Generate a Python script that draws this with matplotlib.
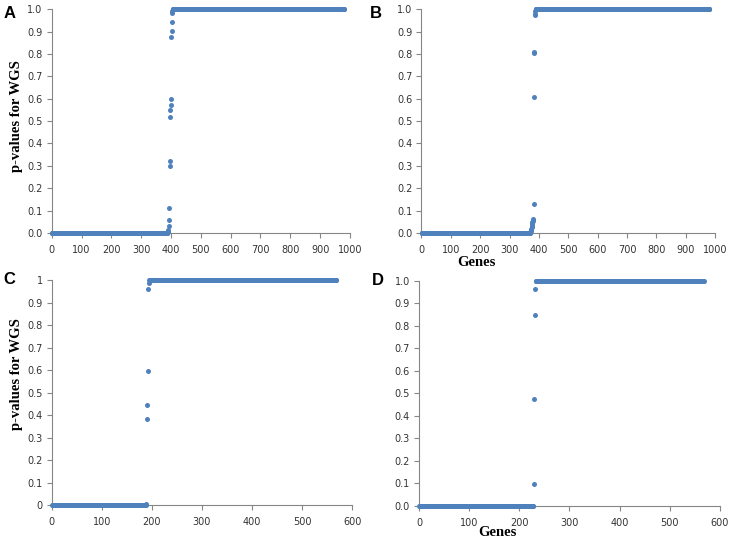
import matplotlib
matplotlib.use('Agg')
import matplotlib.pyplot as plt
import numpy as np
from matplotlib.ticker import FormatStrFormatter, FuncFormatter

# --- datos: p-values ordenados por gen (ceros, transición, unos) ---
a_zero_count = 388
a_mid = [0.003, 0.008, 0.015, 0.033, 0.06, 0.11, 0.30, 0.32, 0.52, 0.55,
         0.57, 0.60, 0.878, 0.903, 0.942, 0.985, 0.993]
a_total = 980

b_zero_count = 370
b_mid = [0.004, 0.008, 0.012, 0.018, 0.025, 0.032, 0.04, 0.048, 0.055, 0.06,
         0.063, 0.128, 0.607, 0.805, 0.81, 0.972, 0.98, 0.99]
b_total = 980

c_zero_count = 188
c_mid = [0.005, 0.384, 0.443, 0.596, 0.959, 0.988]
c_total = 568

d_zero_count = 228
d_mid = [0.099, 0.475, 0.849, 0.964]
d_total = 568

x_ticks_big = [0, 100, 200, 300, 400, 500, 600, 700, 800, 900, 1000]
x_ticks_small = [0, 100, 200, 300, 400, 500, 600]
y_ticks = [0.0, 0.1, 0.2, 0.3, 0.4, 0.5, 0.6, 0.7, 0.8, 0.9, 1.0]

colors = {
    'point': '#4F81BD',
    'axis': '#868686',
    'text': '#333333',
}


def build_series(zero_count, mid, total):
    y = np.concatenate([np.zeros(zero_count), np.array(mid),
                        np.ones(total - zero_count - len(mid))])
    x = np.arange(1, len(y) + 1)
    return x, y


def style_axis(ax, xmax, xticks, yfmt):
    ax.set_xlim(0, xmax)
    ax.set_ylim(0, 1)
    ax.set_xticks(xticks)
    ax.set_yticks(y_ticks)
    ax.yaxis.set_major_formatter(yfmt)
    for side in ['top', 'right']:
        ax.spines[side].set_visible(False)
    for side in ['left', 'bottom']:
        ax.spines[side].set_color(colors['axis'])
        ax.spines[side].set_linewidth(0.8)
    ax.tick_params(axis='both', direction='out', length=3.5, width=0.8,
                   color=colors['axis'], labelsize=7, labelcolor=colors['text'])
    ax.tick_params(axis='x', pad=5)
    ax.tick_params(axis='y', pad=3)


fig = plt.figure(figsize=(7.34, 5.41), dpi=100, facecolor='white')

axA = fig.add_axes([0.0704, 0.5693, 0.4064, 0.4137])
axB = fig.add_axes([0.5740, 0.5693, 0.4005, 0.4137])
axC = fig.add_axes([0.0704, 0.0665, 0.4096, 0.4159])
axD = fig.add_axes([0.5708, 0.0647, 0.4101, 0.4159])

one_dec = FormatStrFormatter('%.1f')
general = FuncFormatter(lambda v, p: '%g' % round(v, 1))

panels = [
    (axA, build_series(a_zero_count, a_mid, a_total), 1000, x_ticks_big, one_dec),
    (axB, build_series(b_zero_count, b_mid, b_total), 1000, x_ticks_big, one_dec),
    (axC, build_series(c_zero_count, c_mid, c_total), 600, x_ticks_small, general),
    (axD, build_series(d_zero_count, d_mid, d_total), 600, x_ticks_small, one_dec),
]

for ax, (x, y), xmax, xticks, yfmt in panels:
    ax.plot(x, y, 'o', ms=3.6, mew=0, color=colors['point'], clip_on=False, zorder=3)
    style_axis(ax, xmax, xticks, yfmt)

# letras de panel
for letter, px, py in [('A', 4, 6), ('B', 370, 6), ('C', 3, 272), ('D', 372, 273)]:
    fig.text(px / 734, 1 - py / 541, letter, fontsize=12, fontweight='bold',
             family='Liberation Sans', color='black', ha='left', va='top')

# etiquetas de ejes
for cy in [116, 374]:
    fig.text(17 / 734, 1 - cy / 541, 'p-values for WGS', rotation=90,
             fontsize=10.5, fontweight='bold', family='Liberation Serif',
             color='black', ha='center', va='center')
for cx, cy in [(476, 263), (497, 533)]:
    fig.text(cx / 734, 1 - cy / 541, 'Genes', fontsize=10.5, fontweight='bold',
             family='Liberation Serif', color='black', ha='center', va='center')

plt.savefig('out.png', dpi=100, facecolor='white')
